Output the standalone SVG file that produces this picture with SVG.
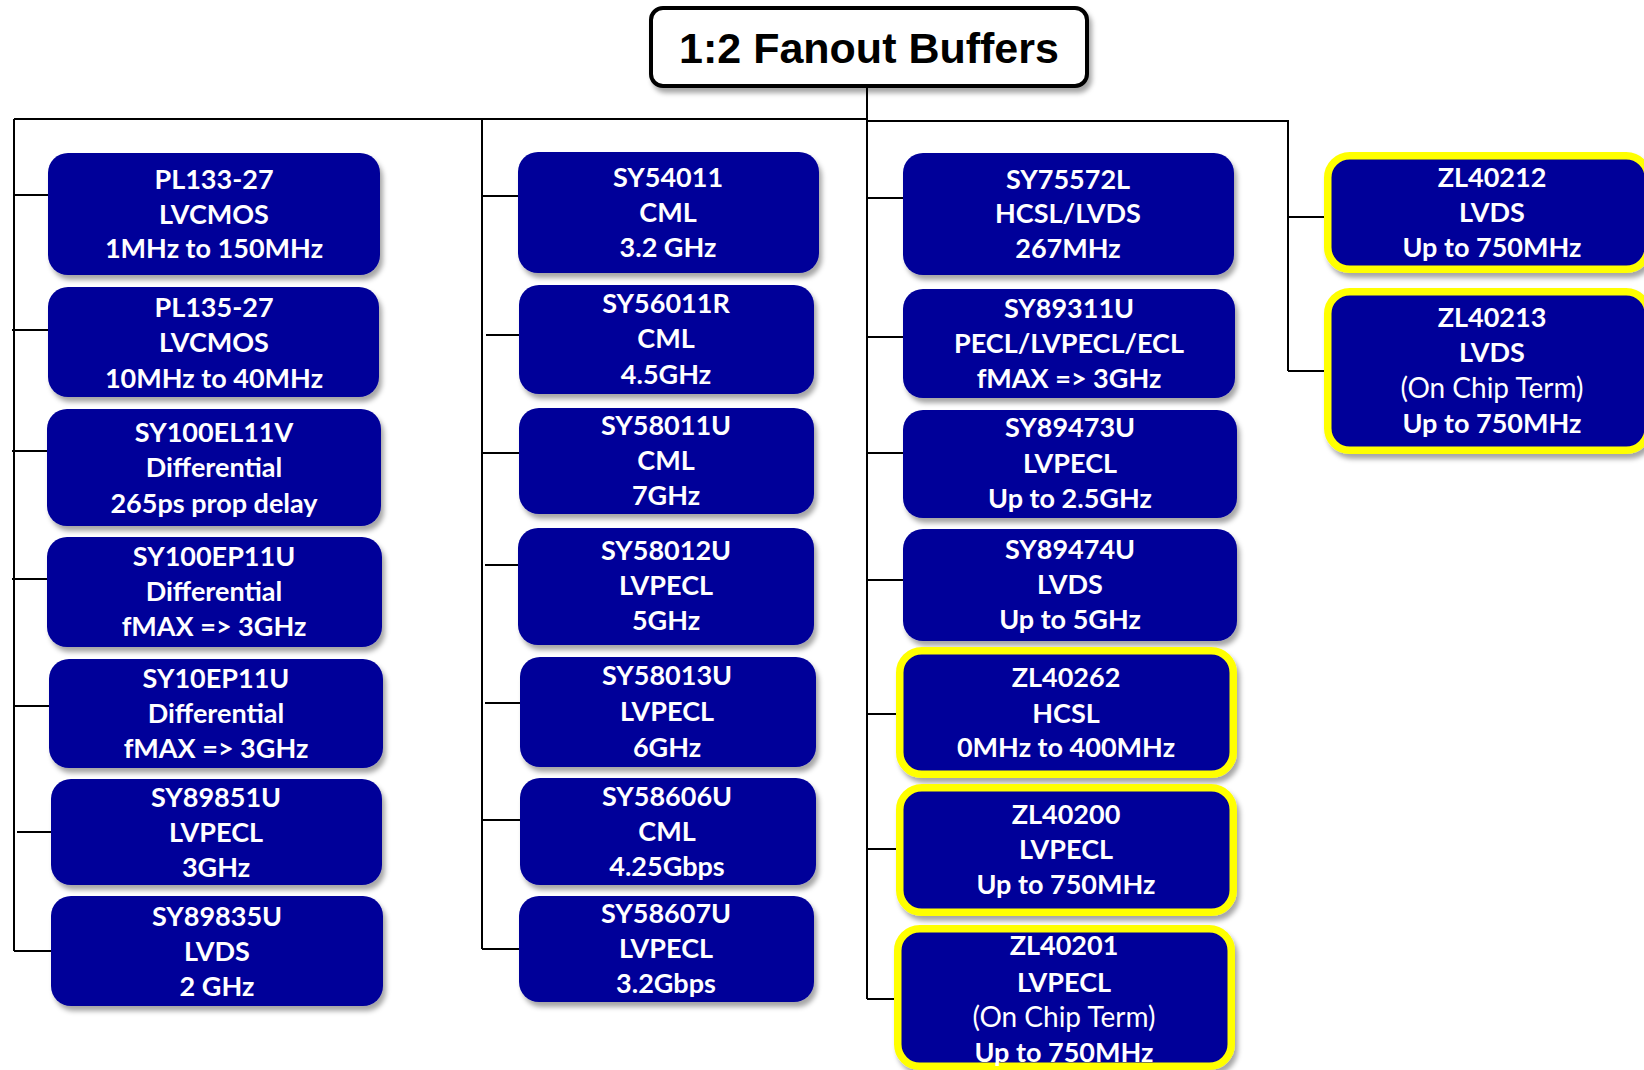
<svg xmlns="http://www.w3.org/2000/svg" width="1644" height="1070" viewBox="0 0 1644 1070">
<defs>
<filter id="sh" x="-10%" y="-10%" width="130%" height="140%">
<feDropShadow dx="3" dy="5" stdDeviation="2.5" flood-color="#000" flood-opacity="0.35"/>
</filter>
<style>
.b{fill:#000099;filter:url(#sh)}
.y{fill:#000099;stroke:#FFFF00;stroke-width:7.5;filter:url(#sh)}
.t{font-family:Lato,"Noto Sans",sans-serif;font-weight:bold;font-size:27px;fill:#fff;text-anchor:middle}
.r{font-weight:normal;font-size:28px}
.c{fill:none;stroke:#000;stroke-width:2}
.title{font-family:"Liberation Sans",Arial,sans-serif;font-weight:bold;font-size:43px;fill:#000;text-anchor:middle}
</style>
</defs>
<rect width="1644" height="1070" fill="#fff"/>

<g id="connectors">
<path class="c" d="M867 88V999M14 119H867M867 121H1288V371"/>
<path class="c" d="M14 119V951M482 119V949"/>
<path class="c" d="M14 195H48M12 330H48M12 451H47M12 579H47M14 706H49M17 832H51M14 951H54"/>
<path class="c" d="M482 196H518M486 335H519M482 453H519M485 565H518M485 703H520M481 820H520M482 949H522"/>
<path class="c" d="M867 198H903M867 337H903M867 453H903M867 580H903M867 714H896M867 849H896M867 999H894"/>
<path class="c" d="M1288 217H1324M1288 371H1324"/>
</g>

<g id="title">
<rect x="651" y="8" width="436" height="78" rx="12" fill="#fff" stroke="#000" stroke-width="4" filter="url(#sh)"/>
<text class="title" x="869" y="63">1:2 Fanout Buffers</text>
</g>

<g id="pl133">
<rect class="b" x="48" y="153" width="332" height="122" rx="20"/>
<text class="t" x="214" y="189">PL133-27</text>
<text class="t" x="214" y="224">LVCMOS</text>
<text class="t" x="214" y="258">1MHz to 150MHz</text>
</g>
<g id="pl135">
<rect class="b" x="48" y="287" width="331" height="110" rx="20"/>
<text class="t" x="214" y="317">PL135-27</text>
<text class="t" x="214" y="352">LVCMOS</text>
<text class="t" x="214" y="388">10MHz to 40MHz</text>
</g>
<g id="sy100el11v">
<rect class="b" x="47" y="409" width="334" height="117" rx="20"/>
<text class="t" x="214" y="442">SY100EL11V</text>
<text class="t" x="214" y="477">Differential</text>
<text class="t" x="214" y="513">265ps prop delay</text>
</g>
<g id="sy100ep11u">
<rect class="b" x="47" y="537" width="335" height="110" rx="20"/>
<text class="t" x="214" y="566">SY100EP11U</text>
<text class="t" x="214" y="601">Differential</text>
<text class="t" x="214" y="636">fMAX =&gt; 3GHz</text>
</g>
<g id="sy10ep11u">
<rect class="b" x="49" y="659" width="334" height="109" rx="20"/>
<text class="t" x="216" y="688">SY10EP11U</text>
<text class="t" x="216" y="723">Differential</text>
<text class="t" x="216" y="758">fMAX =&gt; 3GHz</text>
</g>
<g id="sy89851u">
<rect class="b" x="51" y="779" width="331" height="106" rx="20"/>
<text class="t" x="216" y="807">SY89851U</text>
<text class="t" x="216" y="842">LVPECL</text>
<text class="t" x="216" y="877">3GHz</text>
</g>
<g id="sy89835u">
<rect class="b" x="51" y="896" width="332" height="110" rx="20"/>
<text class="t" x="217" y="926">SY89835U</text>
<text class="t" x="217" y="961">LVDS</text>
<text class="t" x="217" y="996">2 GHz</text>
</g>

<g id="sy54011">
<rect class="b" x="518" y="152" width="301" height="121" rx="20"/>
<text class="t" x="668" y="187">SY54011</text>
<text class="t" x="668" y="222">CML</text>
<text class="t" x="668" y="257">3.2 GHz</text>
</g>
<g id="sy56011r">
<rect class="b" x="519" y="285" width="295" height="109" rx="20"/>
<text class="t" x="666" y="313">SY56011R</text>
<text class="t" x="666" y="348">CML</text>
<text class="t" x="666" y="384">4.5GHz</text>
</g>
<g id="sy58011u">
<rect class="b" x="519" y="408" width="295" height="106" rx="20"/>
<text class="t" x="666" y="435">SY58011U</text>
<text class="t" x="666" y="470">CML</text>
<text class="t" x="666" y="505">7GHz</text>
</g>
<g id="sy58012u">
<rect class="b" x="518" y="528" width="296" height="117" rx="20"/>
<text class="t" x="666" y="560">SY58012U</text>
<text class="t" x="666" y="595">LVPECL</text>
<text class="t" x="666" y="630">5GHz</text>
</g>
<g id="sy58013u">
<rect class="b" x="520" y="657" width="296" height="110" rx="20"/>
<text class="t" x="667" y="685">SY58013U</text>
<text class="t" x="667" y="721">LVPECL</text>
<text class="t" x="667" y="757">6GHz</text>
</g>
<g id="sy58606u">
<rect class="b" x="520" y="778" width="296" height="107" rx="20"/>
<text class="t" x="667" y="806">SY58606U</text>
<text class="t" x="667" y="841">CML</text>
<text class="t" x="667" y="876">4.25Gbps</text>
</g>
<g id="sy58607u">
<rect class="b" x="519" y="896" width="295" height="106" rx="20"/>
<text class="t" x="666" y="923">SY58607U</text>
<text class="t" x="666" y="958">LVPECL</text>
<text class="t" x="666" y="993">3.2Gbps</text>
</g>

<g id="sy75572l">
<rect class="b" x="903" y="153" width="331" height="122" rx="20"/>
<text class="t" x="1068" y="189">SY75572L</text>
<text class="t" x="1068" y="223">HCSL/LVDS</text>
<text class="t" x="1068" y="258">267MHz</text>
</g>
<g id="sy89311u">
<rect class="b" x="903" y="289" width="332" height="109" rx="20"/>
<text class="t" x="1069" y="318">SY89311U</text>
<text class="t" x="1069" y="353">PECL/LVPECL/ECL</text>
<text class="t" x="1069" y="388">fMAX =&gt; 3GHz</text>
</g>
<g id="sy89473u">
<rect class="b" x="903" y="410" width="334" height="108" rx="20"/>
<text class="t" x="1070" y="437">SY89473U</text>
<text class="t" x="1070" y="473">LVPECL</text>
<text class="t" x="1070" y="508">Up to 2.5GHz</text>
</g>
<g id="sy89474u">
<rect class="b" x="903" y="529" width="334" height="112" rx="20"/>
<text class="t" x="1070" y="559">SY89474U</text>
<text class="t" x="1070" y="594">LVDS</text>
<text class="t" x="1070" y="629">Up to 5GHz</text>
</g>
<g id="zl40262">
<rect class="y" x="899.75" y="650.75" width="333.5" height="123.5" rx="22"/>
<text class="t" x="1066" y="687">ZL40262</text>
<text class="t" x="1066" y="723">HCSL</text>
<text class="t" x="1066" y="757">0MHz to 400MHz</text>
</g>
<g id="zl40200">
<rect class="y" x="899.75" y="787.75" width="333.5" height="124.5" rx="22"/>
<text class="t" x="1066" y="824">ZL40200</text>
<text class="t" x="1066" y="859">LVPECL</text>
<text class="t" x="1066" y="894">Up to 750MHz</text>
</g>
<g id="zl40201">
<rect class="y" x="897.75" y="928.75" width="333.5" height="137.5" rx="22"/>
<text class="t" x="1064" y="955">ZL40201</text>
<text class="t" x="1064" y="992">LVPECL</text>
<text class="t r" x="1064" y="1027">(On Chip Term)</text>
<text class="t" x="1064" y="1062">Up to 750MHz</text>
</g>

<g id="zl40212">
<rect class="y" x="1327.75" y="155.75" width="320.5" height="113.5" rx="22"/>
<text class="t" x="1492" y="187">ZL40212</text>
<text class="t" x="1492" y="222">LVDS</text>
<text class="t" x="1492" y="257">Up to 750MHz</text>
</g>
<g id="zl40213">
<rect class="y" x="1327.75" y="291.75" width="320.5" height="158.5" rx="22"/>
<text class="t" x="1492" y="327">ZL40213</text>
<text class="t" x="1492" y="362">LVDS</text>
<text class="t r" x="1492" y="398">(On Chip Term)</text>
<text class="t" x="1492" y="433">Up to 750MHz</text>
</g>
</svg>
